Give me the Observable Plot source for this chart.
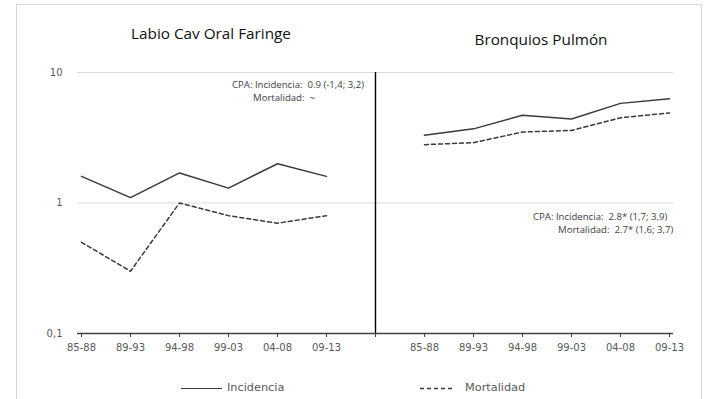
<!DOCTYPE html>
<html>
<head>
<meta charset="utf-8">
<script src="https://cdn.jsdelivr.net/npm/d3@7"></script>
<script src="https://cdn.jsdelivr.net/npm/@observablehq/plot@0.6"></script>
<style>
  html, body { margin: 0; padding: 0; background: #fff; overflow: hidden; }
  #wrap { position: relative; width: 711px; height: 399px; overflow: hidden; }
  #frame { position: absolute; left: 16px; top: 4px; width: 686px; height: 410px; border: 1px solid #d9d9d9; box-sizing: border-box; }
  #chart { position: absolute; left: 0; top: 0; }
  .title { position: absolute; font-family: "Open Sans", sans-serif; font-weight: 400; font-size: 15.3px; color: #111; white-space: pre; transform: translateX(-50%); line-height: 1; }
  .note { position: absolute; font-family: "Open Sans", sans-serif; font-size: 9.6px; color: #404040; white-space: pre; line-height: 1; }
  .leg { position: absolute; font-family: "DejaVu Sans", sans-serif; font-size: 11.3px; color: #595959; white-space: pre; line-height: 1; }
  .legline { position: absolute; height: 0; }
</style>
</head>
<body>
<div id="wrap">
  <div id="frame"></div>
  <div id="chart"></div>
</div>
<script>
// ---- data ----
const periods = ["85-88", "89-93", "94-98", "99-03", "04-08", "09-13"];
const panels = ["Labio Cav Oral Faringe", "Bronquios Pulmón"];
const labioIncidencia = [1.6, 1.1, 1.7, 1.3, 2.0, 1.6];
const labioMortalidad = [0.5, 0.3, 1.0, 0.8, 0.7, 0.8];
const pulmonIncidencia = [3.3, 3.7, 4.7, 4.4, 5.8, 6.3];
const pulmonMortalidad = [2.8, 2.9, 3.5, 3.6, 4.5, 4.9];
const yTicks = [0.1, 1, 10];
const yTickLabels = ["0,1", "1", "10"];
const series = ["Incidencia", "Mortalidad"];
const notesLabio = ["CPA: Incidencia:  0.9 (-1,4; 3,2)", "Mortalidad:  ~"];
const notesPulmon = ["CPA: Incidencia:  2.8* (1,7; 3,9)", "Mortalidad:  2.7* (1,6; 3,7)"];

// ---- table ----
const keyL = periods.map((p, i) => "L" + i);
const keyR = periods.map((p, i) => "R" + i);
const domain = [...keyL, "gap", ...keyR];
const rows = [];
periods.forEach((p, i) => {
  rows.push({key: keyL[i], panel: panels[0], serie: series[0], value: labioIncidencia[i]});
  rows.push({key: keyL[i], panel: panels[0], serie: series[1], value: labioMortalidad[i]});
  rows.push({key: keyR[i], panel: panels[1], serie: series[0], value: pulmonIncidencia[i]});
  rows.push({key: keyR[i], panel: panels[1], serie: series[1], value: pulmonMortalidad[i]});
});
const fmtX = k => k === "gap" ? "" : periods[+k.slice(1)];

const chart = Plot.plot({
  width: 711,
  height: 360,
  marginLeft: 77,
  marginRight: 38,
  marginTop: 72,
  marginBottom: 27,
  style: {fontFamily: "DejaVu Sans, sans-serif", fontSize: "10px", color: "#595959", background: "transparent", overflow: "visible"},
  x: {type: "point", domain, padding: 0, label: null},
  y: {type: "log", domain: [0.1, 10], label: null},
  marks: [
    Plot.ruleY([1, 10], {stroke: "#d9d9d9", strokeWidth: 1}),
    Plot.ruleX(["gap"], {stroke: "#000", strokeWidth: 1.4}),
    Plot.axisX({tickSize: 4, tickPadding: 6, tickFormat: fmtX, stroke: "#404040", fill: "#595959"}),
    Plot.ruleY([0.1], {stroke: "#404040", strokeWidth: 1.4}),
    Plot.axisY({ticks: yTicks, tickSize: 0, tickPadding: 15, tickFormat: d => yTickLabels[yTicks.indexOf(d)], fill: "#595959"}),
    Plot.line(rows.filter(d => d.serie === series[0]), {x: "key", y: "value", z: "panel", stroke: "#3a3a3a", strokeWidth: 1.5}),
    Plot.line(rows.filter(d => d.serie === series[1]), {x: "key", y: "value", z: "panel", stroke: "#3a3a3a", strokeWidth: 1.5, strokeDasharray: "4,3"})
  ]
});
document.getElementById("chart").appendChild(chart);

// ---- titles, notes, legend (HTML overlays) ----
const wrap = document.getElementById("wrap");
function addDiv(cls, text, style) {
  const d = document.createElement("div");
  d.className = cls;
  d.textContent = text;
  Object.assign(d.style, style);
  wrap.appendChild(d);
  return d;
}
addDiv("title", panels[0], {left: "211px", top: "26px"});
addDiv("title", panels[1], {left: "541px", top: "31.5px"});
addDiv("note", notesLabio[0], {left: "232px", top: "80px"});
addDiv("note", notesLabio[1], {left: "253px", top: "92.5px"});
addDiv("note", notesPulmon[0], {left: "533px", top: "211.5px"});
addDiv("note", notesPulmon[1], {left: "558px", top: "224.5px"});

const l1 = document.createElement("div");
l1.className = "legline";
Object.assign(l1.style, {left: "181px", top: "388px", width: "41px", borderTop: "1.5px solid #3a3a3a"});
wrap.appendChild(l1);
addDiv("leg", series[0], {left: "227px", top: "382px"});
const l2 = document.createElement("div");
l2.className = "legline";
l2.innerHTML = '<svg width="33" height="3" style="display:block"><line x1="0" y1="1.5" x2="33" y2="1.5" stroke="#3a3a3a" stroke-width="1.5" stroke-dasharray="4,3"/></svg>';
Object.assign(l2.style, {left: "420px", top: "387px"});
wrap.appendChild(l2);
addDiv("leg", series[1], {left: "465px", top: "382px"});
</script>
</body>
</html>
